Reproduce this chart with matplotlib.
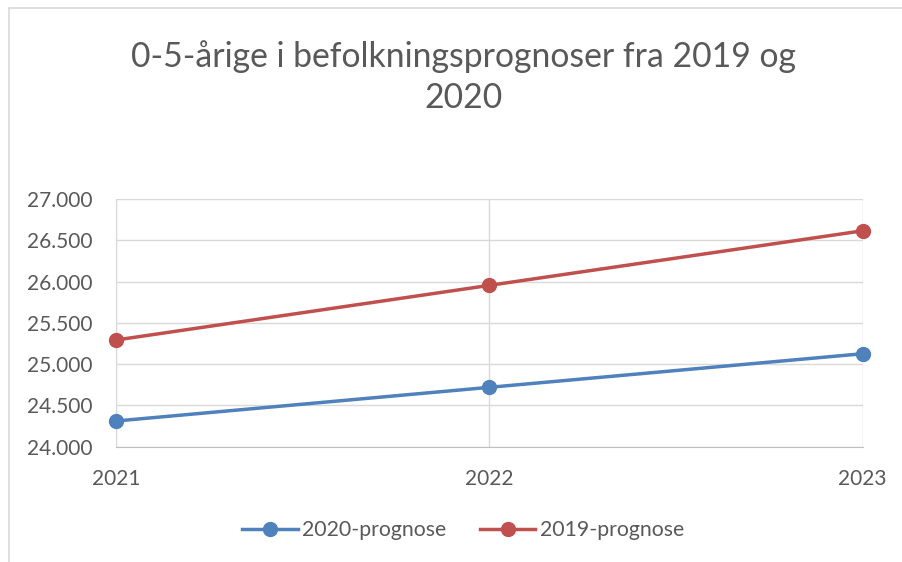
import matplotlib as mpl
mpl.use('Agg')
mpl.rcParams['font.family'] = ['Lato', 'DejaVu Sans']
import matplotlib.pyplot as plt
from matplotlib.ticker import FuncFormatter
from matplotlib.lines import Line2D

#=============
# Data
#=============
years = [2021, 2022, 2023]
prog2020 = [24311, 24719, 25126]
prog2019 = [25292, 25954, 26615]
series_names = ['2020-prognose', '2019-prognose']
title = '0-5-årige i befolkningsprognoser fra 2019 og\n2020'

myblue = '#4F81BD'
myred = '#C0504D'
txtcol = '#595959'
gridcol = '#D9D9D9'

fig = plt.figure(figsize=(9.03, 5.62), dpi=100)
ax = fig.add_axes([0.1285, 0.2052, 0.8269, 0.4407])

p1, = ax.plot(years, prog2020, '-o', color=myblue, lw=2.5, ms=10, clip_on=False, zorder=3, label=series_names[0])
p2, = ax.plot(years, prog2019, '-o', color=myred, lw=2.5, ms=10, clip_on=False, zorder=3, label=series_names[1])

ax.set_xlim(2021, 2023)
ax.set_ylim(24000, 27000)
ax.set_xticks(years)
ax.set_yticks(range(24000, 27001, 500))
ax.yaxis.set_major_formatter(FuncFormatter(lambda v, p: '{:,.0f}'.format(v).replace(',', '.')))

ax.grid(True, color=gridcol, lw=1)
ax.set_axisbelow(True)
for s in ['top', 'right']:
    ax.spines[s].set_visible(False)
ax.spines['left'].set_color(gridcol)
ax.spines['bottom'].set_color('#BFBFBF')
ax.tick_params(length=0, labelsize=15, colors=txtcol)
ax.tick_params(axis='y', pad=17)
ax.tick_params(axis='x', pad=16)

fig.text(0.513, 0.863, title, ha='center', va='center', fontsize=24.3, color=txtcol, linespacing=1.32)

lg = fig.legend(handles=[p1, p2], loc='center', bbox_to_anchor=(0.513, 0.057), ncol=2, frameon=False,
                fontsize=15.3, handlelength=2.6, columnspacing=1.6, handletextpad=0.2)
for t in lg.get_texts():
    t.set_color(txtcol)

# chart area border (top and left visible)
fig.add_artist(Line2D([0.0099, 0.0099], [0, 0.986], color=gridcol, lw=1.2, transform=fig.transFigure))
fig.add_artist(Line2D([0.0099, 1], [0.986, 0.986], color=gridcol, lw=1.2, transform=fig.transFigure))

fig.savefig('out.png', dpi=100)
